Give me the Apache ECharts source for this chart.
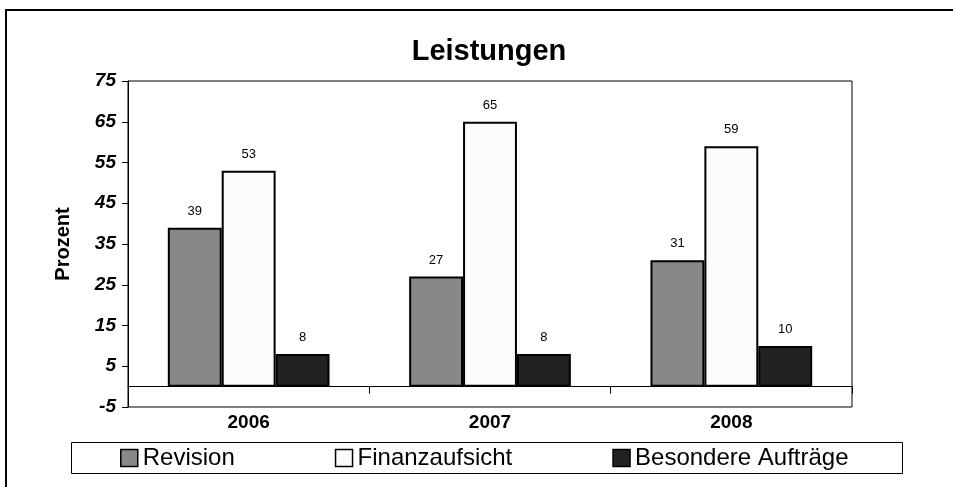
<!DOCTYPE html>
<html>
<head>
<meta charset="utf-8">
<script src="https://cdn.jsdelivr.net/npm/echarts@6/dist/echarts.min.js"></script>
<style>
  html, body { margin: 0; padding: 0; background: #fff; }
  #chart { width: 953px; height: 487px; }
</style>
</head>
<body>
<div id="chart"></div>
<script>
var years = ['2006', '2007', '2008'];
var revision = [39, 27, 31];
var finanzaufsicht = [53, 65, 59];
var besondere = [8, 8, 10];
var seriesNames = ['Revision', 'Finanzaufsicht', 'Besondere Aufträge'];

var chart = echarts.init(document.getElementById('chart'));

// gemeinsamer Stil fuer die Balken
function barSeries(name, data, color) {
  return {
    name: name,
    type: 'bar',
    data: data,
    barGap: '0%',
    barCategoryGap: '33%',
    itemStyle: { color: color, borderColor: '#000', borderWidth: 2 },
    label: {
      show: true,
      position: 'top',
      distance: 10,
      color: '#000',
      fontFamily: 'Liberation Sans',
      fontSize: 13
    }
  };
}

chart.setOption({
  animation: false,
  textStyle: { fontFamily: 'Liberation Sans' },
  graphic: [{
    type: 'rect',
    shape: { x: 6, y: 10, width: 1000, height: 600 },
    style: { fill: 'none', stroke: '#000', lineWidth: 2 },
    z: 100
  }, {
    type: 'rect',
    shape: { x: 71.5, y: 442.5, width: 831, height: 31 },
    style: { fill: 'none', stroke: '#000', lineWidth: 1 },
    z: 100
  }],
  title: {
    text: 'Leistungen',
    left: 484,
    textAlign: 'center',
    top: 32,
    textStyle: { fontSize: 29, fontWeight: 'bold', color: '#000', fontFamily: 'Liberation Sans' }
  },
  legend: {
    data: seriesNames,
    left: 120,
    top: 446,
    padding: 0,
    itemGap: 100,
    itemWidth: 17,
    itemHeight: 17,
    icon: 'rect',
    itemStyle: { borderColor: '#000', borderWidth: 1.5 },
    textStyle: { fontSize: 24, color: '#000', fontFamily: 'Liberation Sans' }
  },
  grid: {
    left: 128,
    right: 101,
    top: 81,
    bottom: 80,
    show: true,
    borderColor: '#000',
    borderWidth: 1,
    backgroundColor: '#fff'
  },
  xAxis: {
    type: 'category',
    data: years,
    axisLine: { onZero: true, lineStyle: { color: '#000', width: 1 } },
    axisTick: { show: true, length: 7, lineStyle: { color: '#000' } },
    axisLabel: { margin: 6, fontSize: 19, fontWeight: 'bold', color: '#000' }
  },
  yAxis: {
    type: 'value',
    min: -5,
    max: 75,
    interval: 10,
    name: 'Prozent',
    nameLocation: 'middle',
    nameGap: 55,
    nameTextStyle: { fontSize: 20, fontWeight: 'bold', color: '#000' },
    splitLine: { show: false },
    axisLine: { show: true, lineStyle: { color: '#000' } },
    axisTick: { show: true, length: 6, lineStyle: { color: '#000' } },
    axisLabel: { fontSize: 19, fontWeight: 'bold', fontStyle: 'italic', color: '#000', margin: 12 }
  },
  series: [
    barSeries(seriesNames[0], revision, '#888888'),
    barSeries(seriesNames[1], finanzaufsicht, '#fbfbfb'),
    barSeries(seriesNames[2], besondere, '#222222')
  ]
});
</script>
</body>
</html>
